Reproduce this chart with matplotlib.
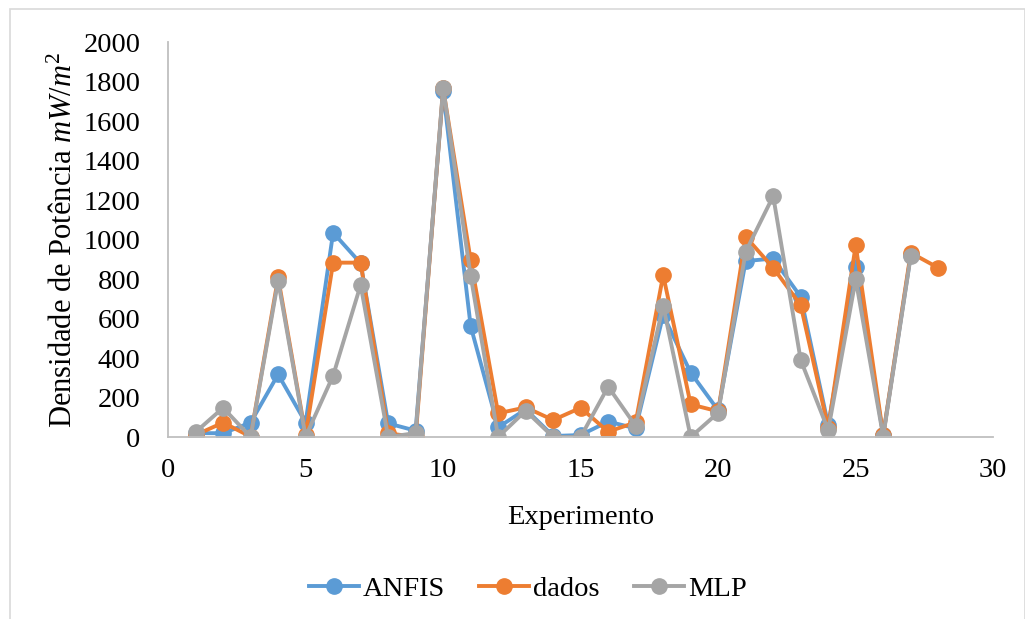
import matplotlib.pyplot as plt
from matplotlib.patches import Rectangle

plt.rcParams['font.family'] = ['Liberation Serif', 'DejaVu Serif']
plt.rcParams['mathtext.fontset'] = 'custom'
plt.rcParams['mathtext.it'] = 'Liberation Serif:italic'
plt.rcParams['mathtext.rm'] = 'Liberation Serif'

# valores
exp_anfis = list(range(1, 28))
anfis = [20, 19, 73, 317, 73, 1035, 880, 69, 32, 1753, 562, 49, 140, 5, 10, 78, 44,
         618, 326, 135, 891, 904, 710, 61, 859, 10, 920]
exp_dados = list(range(1, 29))
dados = [10, 73, 2, 808, 10, 883, 883, 19, 0, 1765, 896, 120, 150, 86, 148, 27, 74,
         820, 165, 130, 1014, 857, 668, 46, 972, 10, 933, 857]
exp_mlp = list(range(1, 28))
mlp = [25, 148, 0, 791, 2, 311, 770, 0, 20, 1769, 817, 0, 133, 0, 0, 255, 56,
       665, 0, 123, 938, 1220, 390, 35, 798, 2, 916]

fs = 20.5

fig = plt.figure(figsize=(10.25, 6.19), dpi=100)
ax = fig.add_axes([0.164, 0.294, 0.805, 0.638])

fig.patches.append(Rectangle((0.0098, -0.01), 0.99, 0.995, transform=fig.transFigure,
                             fill=False, edgecolor='#d9d9d9', linewidth=1.2))

ax.plot(exp_anfis, anfis, color='#5B9BD5', lw=2.8, marker='o', ms=11, label='ANFIS')
ax.plot(exp_dados, dados, color='#ED7D31', lw=2.8, marker='o', ms=11, label='dados')
ax.plot(exp_mlp, mlp, color='#A5A5A5', lw=2.8, marker='o', ms=11, label='MLP')

ax.set_xlim(0, 30)
ax.set_ylim(0, 2000)
ax.set_xticks(range(0, 31, 5))
ax.set_yticks(range(0, 2001, 200))
ax.tick_params(length=0, labelsize=fs, colors='black')
ax.tick_params(axis='x', pad=15)
ax.tick_params(axis='y', pad=20)
for s in ['top', 'right']:
    ax.spines[s].set_visible(False)
for s in ['left', 'bottom']:
    ax.spines[s].set_color('#bfbfbf')
    ax.spines[s].set_linewidth(1.3)

ax.set_xlabel('Experimento', fontsize=fs, labelpad=16)
ax.set_ylabel('Densidade de Potência $mW/m^2$', fontsize=22, labelpad=3)

fig.legend(loc='center', bbox_to_anchor=(0.515, 0.049), ncol=3, frameon=False,
           fontsize=fs, handlelength=1.75, handletextpad=0.15, columnspacing=1.2)

fig.savefig('out.png', dpi=100)
